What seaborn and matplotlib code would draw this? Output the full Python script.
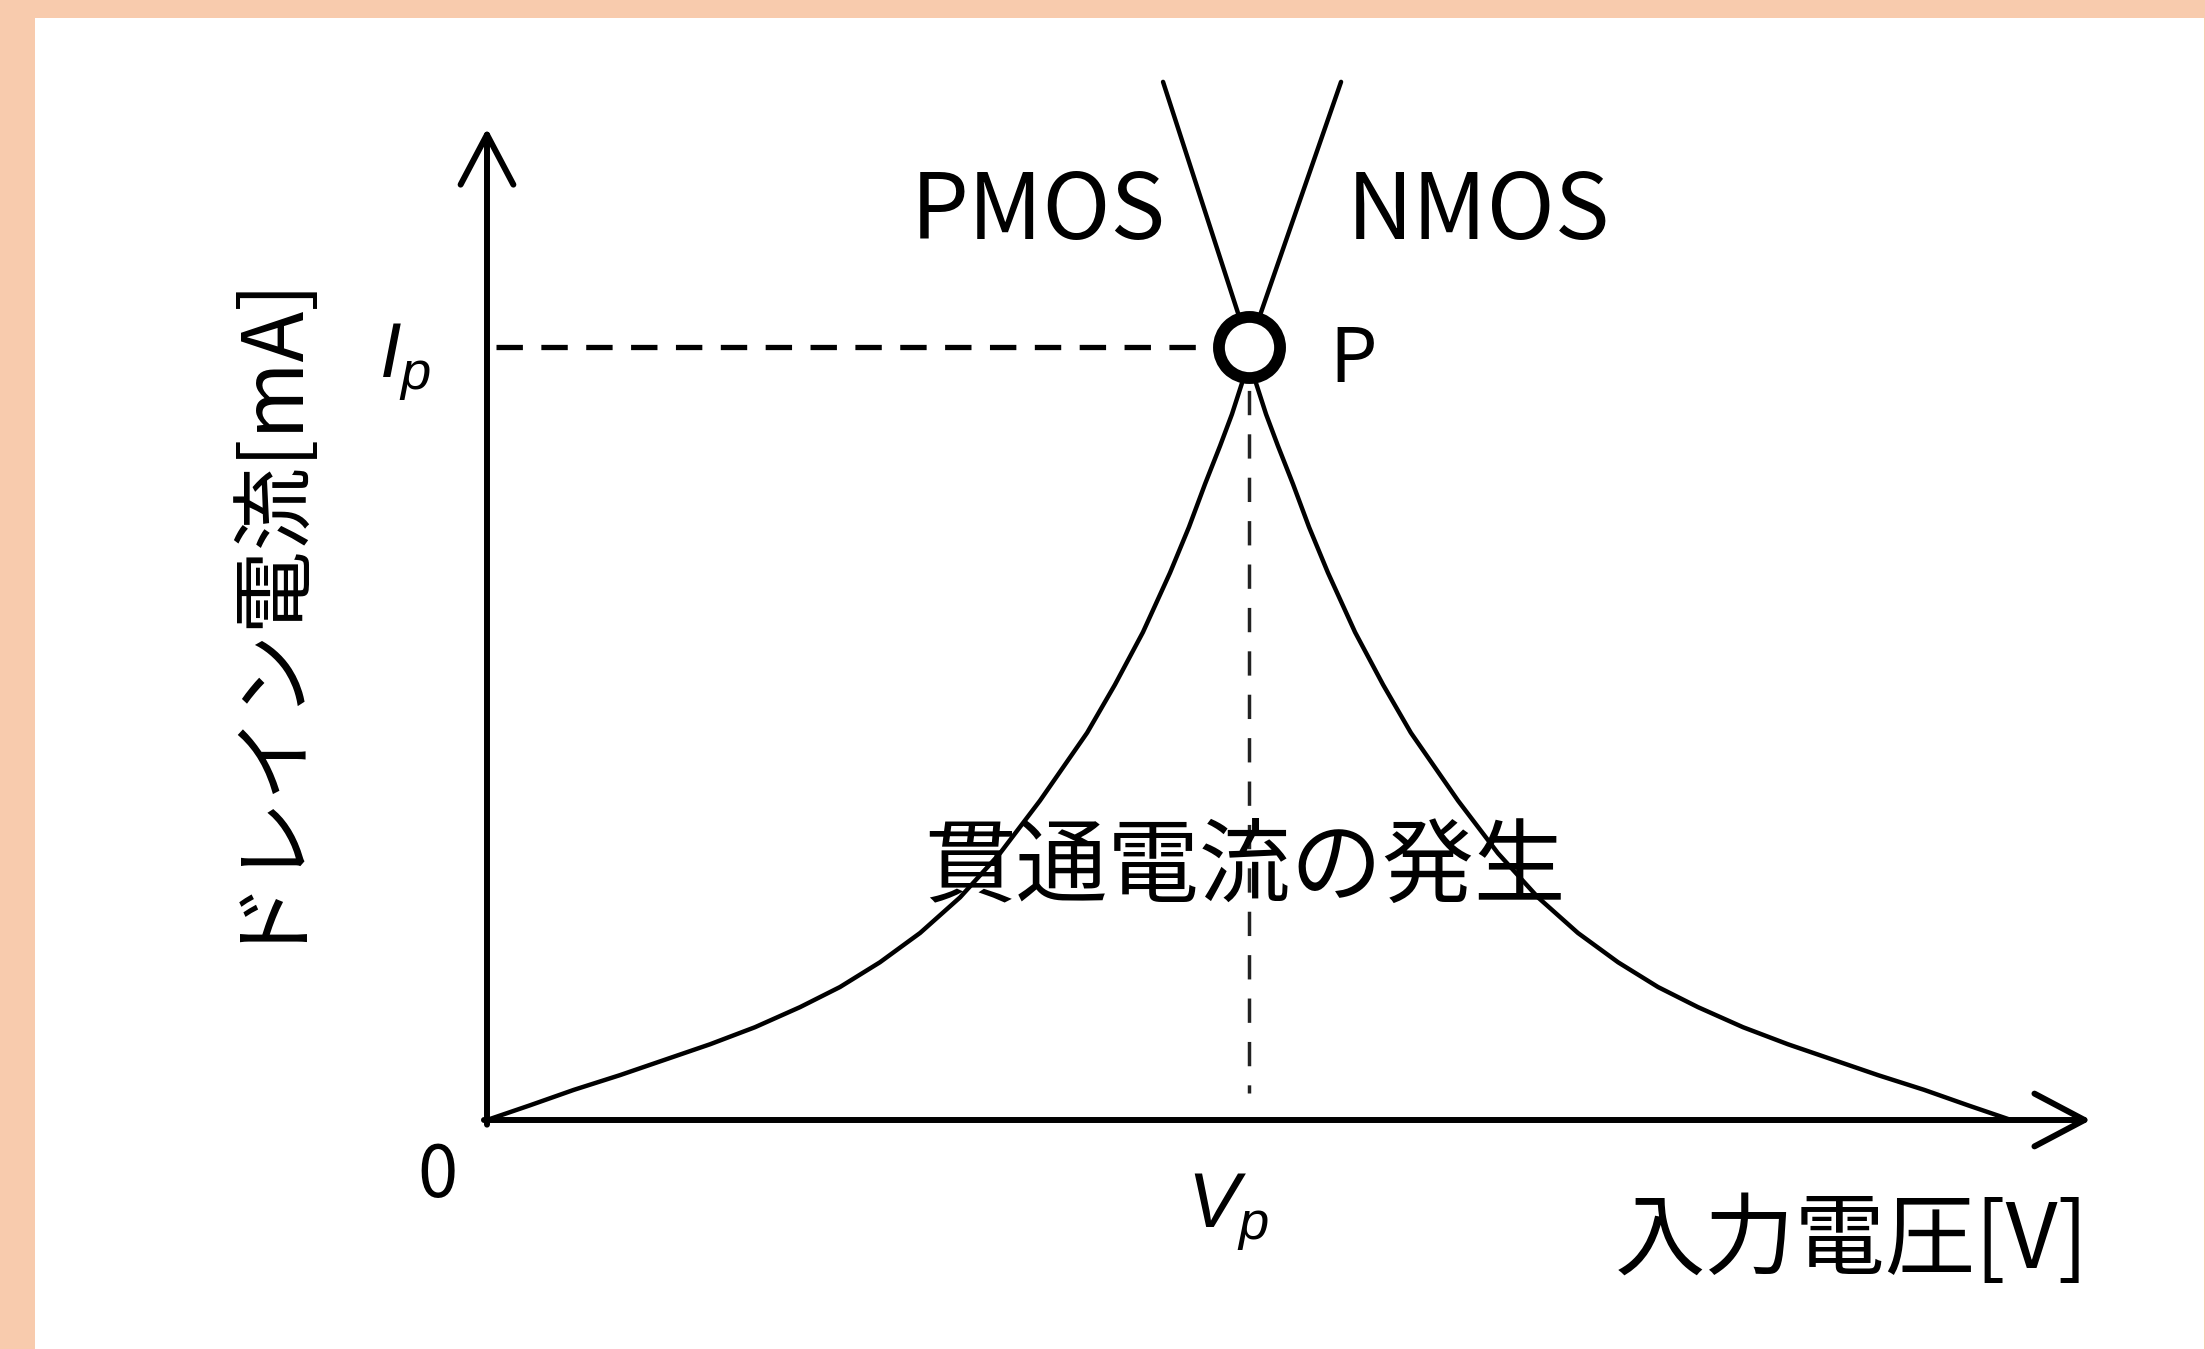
import numpy as np
import pandas as pd
import seaborn as sns
import matplotlib
matplotlib.use("Agg")
import matplotlib.pyplot as plt
from matplotlib.patches import Rectangle

# ---------------- data ----------------
# NMOS: rises from origin through P, then continues as a straight line
nmos_v = [0.000, 0.141, 0.285, 0.436, 0.584, 0.732, 0.879, 1.027, 1.158, 1.289, 1.421, 1.552,
          1.683, 1.814, 1.969, 2.060, 2.152, 2.241, 2.303, 2.356, 2.405, 2.444, 2.480, 2.500, 2.802]
nmos_i = [0.000, 0.019, 0.039, 0.058, 0.078, 0.098, 0.120, 0.146, 0.172, 0.204, 0.242, 0.288,
          0.345, 0.413, 0.501, 0.563, 0.631, 0.708, 0.767, 0.823, 0.872, 0.913, 0.957, 1.000, 1.343]
# PMOS: straight line from the top down to P, then decays to VDD
pmos_v = [2.218, 2.500, 2.520, 2.556, 2.595, 2.644, 2.697, 2.759, 2.848, 2.940, 3.031, 3.186,
          3.317, 3.448, 3.579, 3.711, 3.842, 3.973, 4.121, 4.268, 4.416, 4.564, 4.715, 4.859, 5.000]
pmos_i = [1.343, 1.000, 0.957, 0.913, 0.872, 0.823, 0.767, 0.708, 0.631, 0.563, 0.501, 0.413,
          0.345, 0.288, 0.242, 0.204, 0.172, 0.146, 0.120, 0.098, 0.078, 0.058, 0.039, 0.019, 0.000]

Vp = 2.5     # crossing voltage
Ip = 1.0     # crossing (shoot-through) current
x_axis_end = 5.262
y_axis_end = 1.283

series_labels = ["PMOS", "NMOS"]
point_label = "P"
center_text = "貫通電流の発生"
x_label = "入力電圧[V]"
y_label = "ドレイン電流[mA]"
origin_label = "0"
vp_label = r"$V_p$"
ip_label = r"$I_p$"

# ---------------- style ----------------
sns.set_theme(style="white")
plt.rcParams["font.family"] = ["Noto Sans CJK JP", "DejaVu Sans"]
plt.rcParams["mathtext.fontset"] = "custom"
plt.rcParams["mathtext.it"] = "Liberation Sans:italic"
plt.rcParams["mathtext.rm"] = "Liberation Sans"
plt.rcParams["text.color"] = "black"

W, H = 2205, 1349
fig = plt.figure(figsize=(W / 100, H / 100), dpi=100)
fig.patch.set_facecolor("#F8CBAD")
fig.patches.append(Rectangle((35 / W, 0), (2204 - 35) / W, (H - 18) / H,
                             transform=fig.transFigure, facecolor="white",
                             edgecolor="none", zorder=-5))

ax = fig.add_axes([0, 0, 1, 1])
ax.set_zorder(2)
ax.set_facecolor("none")
x0px, y0px = 487, 1120
sx, sy = 304.8, 773.0
ax.set_xlim(-x0px / sx, (W - x0px) / sx)
ax.set_ylim(-(H - y0px) / sy, y0px / sy)
ax.set_axis_off()

df_n = pd.DataFrame({"v": nmos_v, "i": nmos_i})
df_p = pd.DataFrame({"v": pmos_v, "i": pmos_i})
for df in (df_n, df_p):
    sns.lineplot(data=df, x="v", y="i", sort=False, estimator=None, color="black",
                 lw=3.2, ax=ax, zorder=3)
for ln in ax.lines:
    ln.set_solid_joinstyle("round")

# dashed guides
ax.plot([0.03, Vp], [Ip, Ip], color="black", lw=3.8, linestyle=(0, (5.0, 3.5)), zorder=2)
ax.plot([Vp, Vp], [Ip, 0.035], color="#222222", lw=2.5, linestyle=(0, (7.0, 5.5)), zorder=2)

# crossing point
ax.plot([Vp], [Ip], marker="o", ms=44, mfc="white", mec="black", mew=8.5, zorder=5)

# axes with arrows
arrow_kw = dict(arrowstyle="->,head_length=36,head_width=19", lw=4.3, color="black",
                shrinkA=0, shrinkB=0, mutation_scale=1)
ax.annotate("", xy=(x_axis_end, 0), xytext=(-0.01, 0), arrowprops=arrow_kw, zorder=4)
ax.annotate("", xy=(0, y_axis_end), xytext=(0, -0.006), arrowprops=arrow_kw, zorder=4)

# ---------------- text ----------------
def fx(px):
    return px / W

def fy(py):
    return 1 - py / H

T = fig.transFigure
tk = dict(transform=T, color="black", zorder=10)
fig.text(fx(1038), fy(239), series_labels[0], fontsize=66, ha="center", va="baseline", **tk)
fig.text(fx(1478), fy(239), series_labels[1], fontsize=66, ha="center", va="baseline", **tk)
fig.text(fx(1353), fy(382), point_label, fontsize=54, ha="center", va="baseline", **tk)
fig.text(fx(437), fy(1197), origin_label, fontsize=52, ha="center", va="baseline", **tk)
fig.text(fx(405), fy(378), ip_label, fontsize=56, ha="center", va="baseline", **tk)
fig.text(fx(1228), fy(1228), vp_label, fontsize=56, ha="center", va="baseline", **tk)
fig.text(fx(1245), fy(895), center_text, fontsize=66, ha="center", va="baseline", **tk)
fig.text(fx(1852), fy(1268), x_label, fontsize=65, ha="center", va="baseline", **tk)
fig.text(fx(255), fy(600), y_label, fontsize=60, ha="center", va="center", rotation=90, **tk)

fig.savefig("out.png", dpi=100, facecolor=fig.get_facecolor())
